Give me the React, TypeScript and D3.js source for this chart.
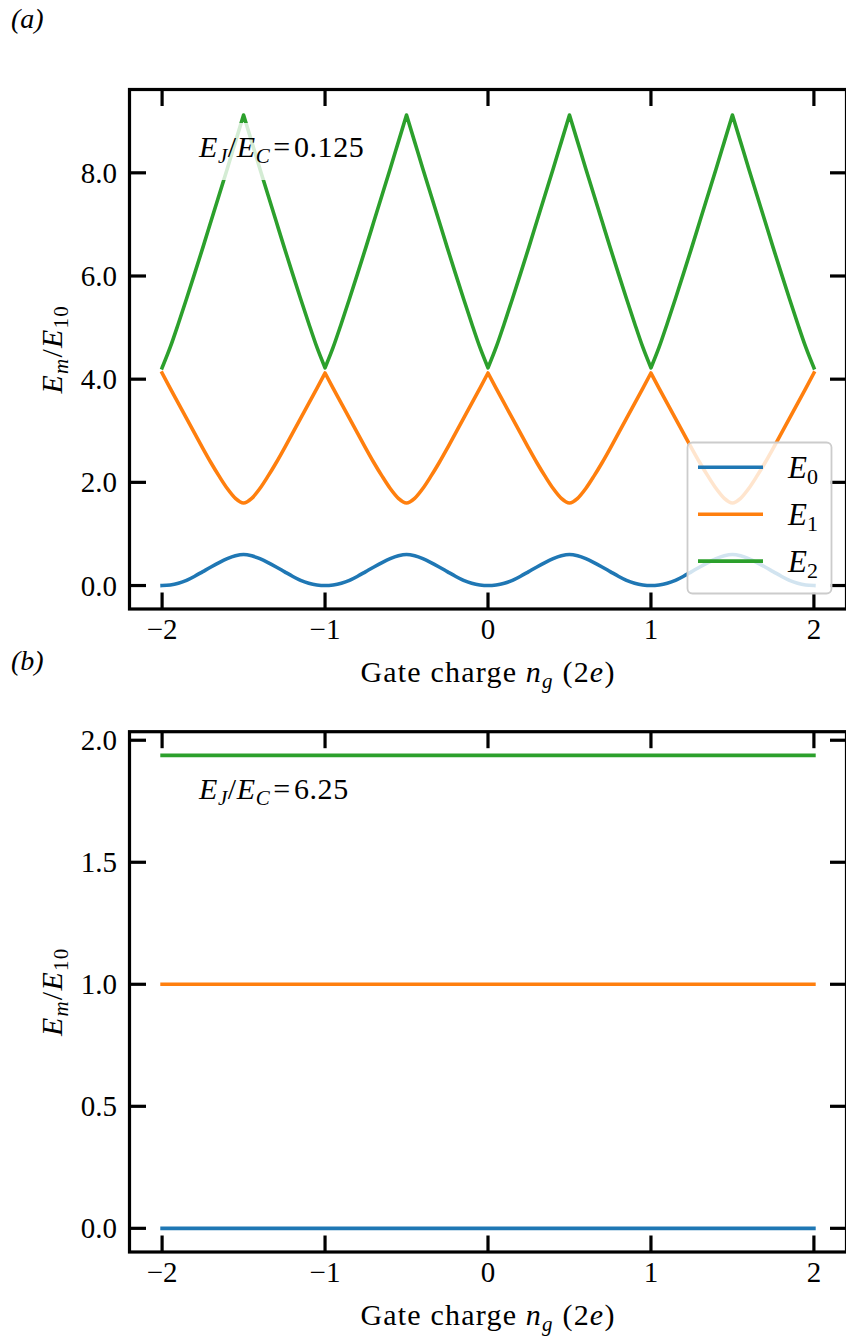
import React from 'react';
import * as d3 from 'd3';

// ---------- data ----------
const NG = [
  -2, -1.95, -1.9, -1.85, -1.8, -1.75, -1.7, -1.65, -1.6, -1.55,
  -1.5, -1.45, -1.4, -1.35, -1.3, -1.25, -1.2, -1.15, -1.1, -1.05,
  -1, -0.95, -0.9, -0.85, -0.8, -0.75, -0.7, -0.65, -0.6, -0.55,
  -0.5, -0.45, -0.4, -0.35, -0.3, -0.25, -0.2, -0.15, -0.1, -0.05,
  0, 0.05, 0.1, 0.15, 0.2, 0.25, 0.3, 0.35, 0.4, 0.45,
  0.5, 0.55, 0.6, 0.65, 0.7, 0.75, 0.8, 0.85, 0.9, 0.95,
  1, 1.05, 1.1, 1.15, 1.2, 1.25, 1.3, 1.35, 1.4, 1.45,
  1.5, 1.55, 1.6, 1.65, 1.7, 1.75, 1.8, 1.85, 1.9, 1.95,
  2,
];

const E0_A = [
  0, 0.012, 0.045, 0.1, 0.18, 0.27, 0.36, 0.445, 0.52, 0.575,
  0.6, 0.575, 0.52, 0.445, 0.36, 0.27, 0.18, 0.1, 0.045, 0.012,
  0, 0.012, 0.045, 0.1, 0.18, 0.27, 0.36, 0.445, 0.52, 0.575,
  0.6, 0.575, 0.52, 0.445, 0.36, 0.27, 0.18, 0.1, 0.045, 0.012,
  0, 0.012, 0.045, 0.1, 0.18, 0.27, 0.36, 0.445, 0.52, 0.575,
  0.6, 0.575, 0.52, 0.445, 0.36, 0.27, 0.18, 0.1, 0.045, 0.012,
  0, 0.012, 0.045, 0.1, 0.18, 0.27, 0.36, 0.445, 0.52, 0.575,
  0.6, 0.575, 0.52, 0.445, 0.36, 0.27, 0.18, 0.1, 0.045, 0.012,
  0,
];

const E1_A = [
  4.12, 3.82, 3.53, 3.24, 2.95, 2.66, 2.38, 2.12, 1.88, 1.69,
  1.6, 1.69, 1.88, 2.12, 2.38, 2.66, 2.95, 3.24, 3.53, 3.82,
  4.12, 3.82, 3.53, 3.24, 2.95, 2.66, 2.38, 2.12, 1.88, 1.69,
  1.6, 1.69, 1.88, 2.12, 2.38, 2.66, 2.95, 3.24, 3.53, 3.82,
  4.12, 3.82, 3.53, 3.24, 2.95, 2.66, 2.38, 2.12, 1.88, 1.69,
  1.6, 1.69, 1.88, 2.12, 2.38, 2.66, 2.95, 3.24, 3.53, 3.82,
  4.12, 3.82, 3.53, 3.24, 2.95, 2.66, 2.38, 2.12, 1.88, 1.69,
  1.6, 1.69, 1.88, 2.12, 2.38, 2.66, 2.95, 3.24, 3.53, 3.82,
  4.12,
];

const E2_A = [
  4.22, 4.62, 5.08, 5.56, 6.05, 6.55, 7.06, 7.57, 8.08, 8.6,
  9.12, 8.6, 8.08, 7.57, 7.06, 6.55, 6.05, 5.56, 5.08, 4.62,
  4.22, 4.62, 5.08, 5.56, 6.05, 6.55, 7.06, 7.57, 8.08, 8.6,
  9.12, 8.6, 8.08, 7.57, 7.06, 6.55, 6.05, 5.56, 5.08, 4.62,
  4.22, 4.62, 5.08, 5.56, 6.05, 6.55, 7.06, 7.57, 8.08, 8.6,
  9.12, 8.6, 8.08, 7.57, 7.06, 6.55, 6.05, 5.56, 5.08, 4.62,
  4.22, 4.62, 5.08, 5.56, 6.05, 6.55, 7.06, 7.57, 8.08, 8.6,
  9.12, 8.6, 8.08, 7.57, 7.06, 6.55, 6.05, 5.56, 5.08, 4.62,
  4.22,
];

// cusp positions (where the curves are not smooth)
const CUSPS_E1 = [-2, -1, 0, 1, 2];
const CUSPS_E2 = [-2, -1.5, -1, -0.5, 0, 0.5, 1, 1.5, 2];

const NG_B = [-2, -1, 0, 1, 2];
const E0_B = [0, 0, 0, 0, 0];
const E1_B = [1, 1, 1, 1, 1];
const E2_B = [1.938, 1.938, 1.938, 1.938, 1.938];

const X_TICKS = [-2, -1, 0, 1, 2];
const X_TICK_LABELS = ['\u22122', '\u22121', '0', '1', '2'];
const Y_TICKS_A = [0, 2, 4, 6, 8];
const Y_TICK_LABELS_A = ['0.0', '2.0', '4.0', '6.0', '8.0'];
const Y_TICKS_B = [0, 0.5, 1, 1.5, 2];
const Y_TICK_LABELS_B = ['0.0', '0.5', '1.0', '1.5', '2.0'];
const LEGEND_SUBS = ['0', '1', '2'];
const COLORS = ['#1f77b4', '#ff7f0e', '#2ca02c'];

// ---------- layout ----------
const W = 846;
const H = 1337;
const FONT = "'Liberation Serif', 'DejaVu Serif', serif";
const LEFT = 129.5;
const RIGHT = 846.5;
const TICK_LEN = 16.5;
const FRAME_W = 3.2;
const LINE_W = 3.6;

type PanelProps = {
  top: number;
  bottom: number;
  yDomain: [number, number];
  xs: number[];
  series: number[][];
  cusps: (number[] | null)[];
  yTicks: number[];
  yTickLabels: string[];
  ratio: string;
  letter: string;
  legend: boolean;
};

function buildPath(
  xs: number[],
  vals: number[],
  cusps: number[] | null,
  x: d3.ScaleLinear<number, number>,
  y: d3.ScaleLinear<number, number>
): string {
  const pts: [number, number][] = xs.map((v, i) => [x(v), y(vals[i])]);
  const line = d3.line().curve(d3.curveMonotoneX);
  if (!cusps) return line(pts) || '';
  let d = '';
  for (let c = 0; c < cusps.length - 1; c++) {
    const seg = pts.filter((_, i) => xs[i] >= cusps[c] - 1e-9 && xs[i] <= cusps[c + 1] + 1e-9);
    const part = line(seg) || '';
    d += c === 0 ? part : 'L' + part.slice(1);
  }
  return d;
}

function Panel(p: PanelProps) {
  const x = d3.scaleLinear().domain([-2.2, 2.2]).range([LEFT, RIGHT]);
  const y = d3.scaleLinear().domain(p.yDomain).range([p.bottom, p.top]);
  const midY = (p.top + p.bottom) / 2;
  const midX = (LEFT + RIGHT) / 2;

  const annX = 199;
  const annY = p.top + 67.5;

  return (
    <g>
      <text x={11} y={p.top - 62} fontSize={28} fontStyle="italic">
        {p.letter}
      </text>

      {p.series.map((vals, i) => (
        <path
          key={i}
          d={buildPath(p.xs, vals, p.cusps[i], x, y)}
          fill="none"
          stroke={COLORS[i]}
          strokeWidth={LINE_W}
          strokeLinecap="square"
          strokeLinejoin="round"
        />
      ))}

      {/* annotation */}
      <rect x={annX - 10} y={annY - 34} width={187} height={57} fill="#ffffff" fillOpacity={0.8} />
      <text x={annX} y={annY} fontSize={30} letterSpacing={0.6}>
        <tspan fontStyle="italic">E</tspan>
        <tspan fontStyle="italic" fontSize={21} dy={6}>J</tspan>
        <tspan dy={-6}>/</tspan>
        <tspan fontStyle="italic">E</tspan>
        <tspan fontStyle="italic" fontSize={21} dy={6}>C</tspan>
        <tspan dy={-6} dx={3}>=</tspan>
        <tspan dx={3}>{p.ratio}</tspan>
      </text>

      {/* frame */}
      <rect
        x={LEFT}
        y={p.top}
        width={RIGHT - LEFT}
        height={p.bottom - p.top}
        fill="none"
        stroke="#000"
        strokeWidth={FRAME_W}
      />
      {X_TICKS.map((t, i) => (
        <g key={'x' + i}>
          <line x1={x(t)} x2={x(t)} y1={p.bottom} y2={p.bottom - TICK_LEN} stroke="#000" strokeWidth={FRAME_W} />
          <line x1={x(t)} x2={x(t)} y1={p.top} y2={p.top + TICK_LEN} stroke="#000" strokeWidth={FRAME_W} />
          <text x={x(t)} y={p.bottom + 30} fontSize={29} textAnchor="middle">
            {X_TICK_LABELS[i]}
          </text>
        </g>
      ))}
      {p.yTicks.map((t, i) => (
        <g key={'y' + i}>
          <line x1={LEFT} x2={LEFT + TICK_LEN} y1={y(t)} y2={y(t)} stroke="#000" strokeWidth={FRAME_W} />
          <line x1={RIGHT} x2={RIGHT - TICK_LEN} y1={y(t)} y2={y(t)} stroke="#000" strokeWidth={FRAME_W} />
          <text x={117} y={y(t) + 10} fontSize={29} textAnchor="end">
            {p.yTickLabels[i]}
          </text>
        </g>
      ))}

      {/* axis labels */}
      <text x={midX} y={p.bottom + 73} fontSize={30} textAnchor="middle" letterSpacing={1.2}>
        <tspan>Gate charge </tspan>
        <tspan fontStyle="italic">n</tspan>
        <tspan fontStyle="italic" fontSize={21} dy={6}>g</tspan>
        <tspan dy={-6}> (2</tspan>
        <tspan fontStyle="italic">e</tspan>
        <tspan>)</tspan>
      </text>
      <text
        transform={`translate(62,${midY}) rotate(-90)`}
        fontSize={30}
        textAnchor="middle"
        letterSpacing={1.2}
      >
        <tspan fontStyle="italic">E</tspan>
        <tspan fontStyle="italic" fontSize={21} dy={6}>m</tspan>
        <tspan dy={-6}>/</tspan>
        <tspan fontStyle="italic">E</tspan>
        <tspan fontSize={21} dy={6}>10</tspan>
      </text>

      {p.legend && (
        <g>
          <rect
            x={687.5}
            y={442.5}
            width={144}
            height={151}
            rx={5}
            fill="#ffffff"
            fillOpacity={0.8}
            stroke="#cccccc"
            strokeWidth={1.8}
          />
          {LEGEND_SUBS.map((s, i) => {
            const ly = 467.3 + i * 46.9;
            return (
              <g key={'l' + i}>
                <line x1={698} x2={763} y1={ly} y2={ly} stroke={COLORS[i]} strokeWidth={LINE_W} strokeLinecap="butt" />
                <text x={788} y={ly + 11} fontSize={31}>
                  <tspan fontStyle="italic">E</tspan>
                  <tspan fontSize={22} dy={6}>{s}</tspan>
                </text>
              </g>
            );
          })}
        </g>
      )}
    </g>
  );
}

export default function App() {
  return (
    <svg
      width={W}
      height={H}
      viewBox={`0 0 ${W} ${H}`}
      style={{ position: 'absolute', left: 0, top: 0, background: '#fff', fontFamily: FONT }}
    >
      <rect x={0} y={0} width={W} height={H} fill="#fff" />
      <Panel
        top={89.5}
        bottom={609}
        yDomain={[-0.455, 9.615]}
        xs={NG}
        series={[E0_A, E1_A, E2_A]}
        cusps={[null, CUSPS_E1, CUSPS_E2]}
        yTicks={Y_TICKS_A}
        yTickLabels={Y_TICK_LABELS_A}
        ratio="0.125"
        letter="(a)"
        legend={true}
      />
      <Panel
        top={731.7}
        bottom={1252}
        yDomain={[-0.097, 2.035]}
        xs={NG_B}
        series={[E0_B, E1_B, E2_B]}
        cusps={[null, null, null]}
        yTicks={Y_TICKS_B}
        yTickLabels={Y_TICK_LABELS_B}
        ratio="6.25"
        letter="(b)"
        legend={false}
      />
    </svg>
  );
}
